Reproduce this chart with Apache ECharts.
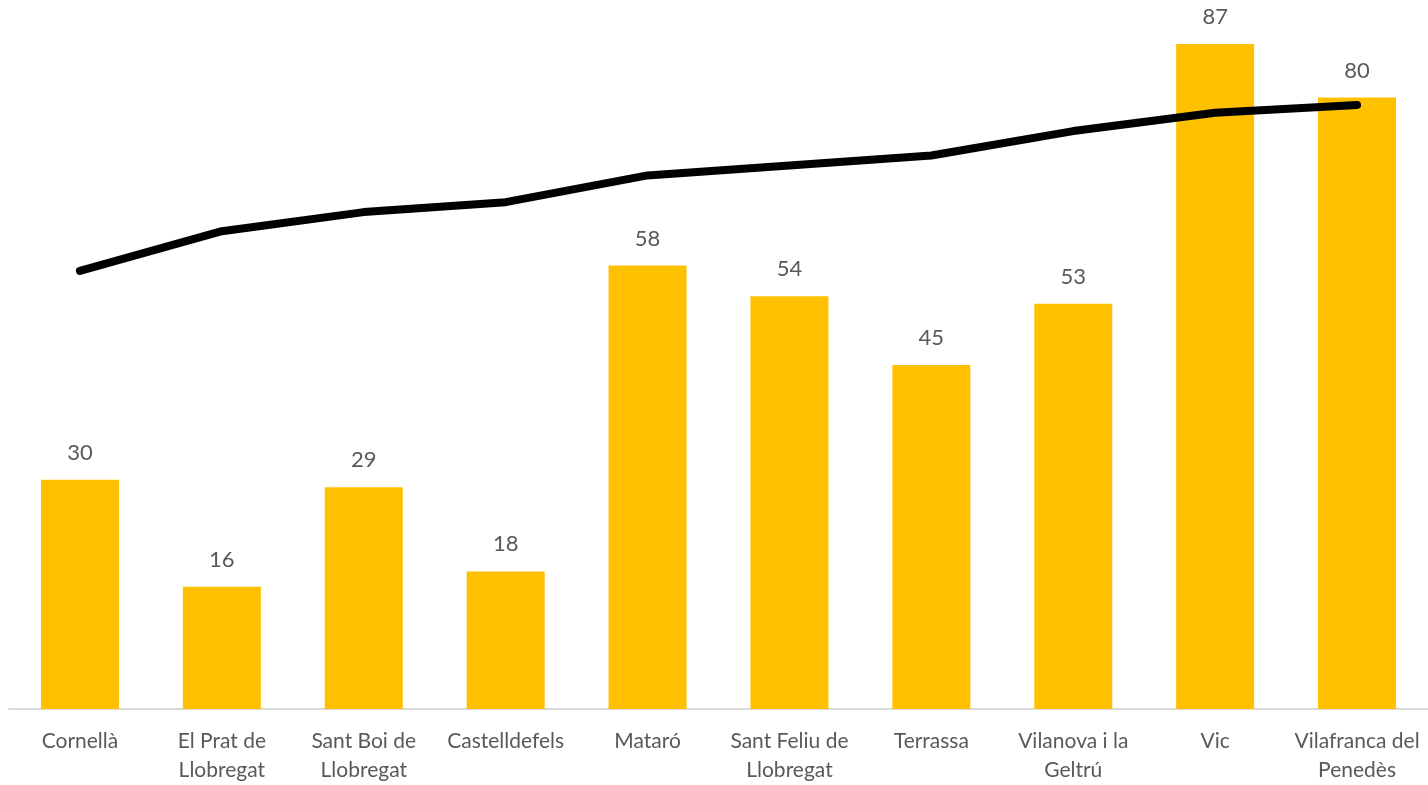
<!DOCTYPE html>
<html><head><meta charset="utf-8">
<script src="https://cdn.jsdelivr.net/npm/echarts@6/dist/echarts.min.js"></script>
<style>html,body{margin:0;padding:0;background:#fff}#c{width:1428px;height:785px}</style>
</head><body><div id="c"></div>
<script>
const categories = ['Cornellà','El Prat de\nLlobregat','Sant Boi de\nLlobregat','Castelldefels','Mataró','Sant Feliu de\nLlobregat','Terrassa','Vilanova i la\nGeltrú','Vic','Vilafranca del\nPenedès'];
const barValues = [30,16,29,18,58,54,45,53,87,80];
const lineValues = [57.3,62.5,65.0,66.3,69.8,71.1,72.4,75.6,78.0,79.0];
const chart = echarts.init(document.getElementById('c'));
chart.setOption({
  animation:false,
  textStyle:{fontFamily:'Lato'},
  grid:{left:9,right:-3,top:21,bottom:76,containLabel:false},
  xAxis:{type:'category',data:categories,
    axisLine:{lineStyle:{color:'#d9d9d9',width:2}},axisTick:{show:false},
    axisLabel:{color:'#595959',fontSize:21,lineHeight:29,margin:18,interval:0,fontFamily:'Lato'}},
  yAxis:{type:'value',min:0,max:90,show:false,splitLine:{show:false}},
  series:[
    {type:'bar',data:barValues,barWidth:78,itemStyle:{color:'#ffc000'},
     label:{show:true,position:'top',distance:16,color:'#595959',fontSize:22,fontFamily:'Lato'}},
    {type:'line',data:lineValues,symbol:'none',lineStyle:{color:'#000',width:8,cap:'round',join:'round'}}
  ]
});
</script></body></html>
